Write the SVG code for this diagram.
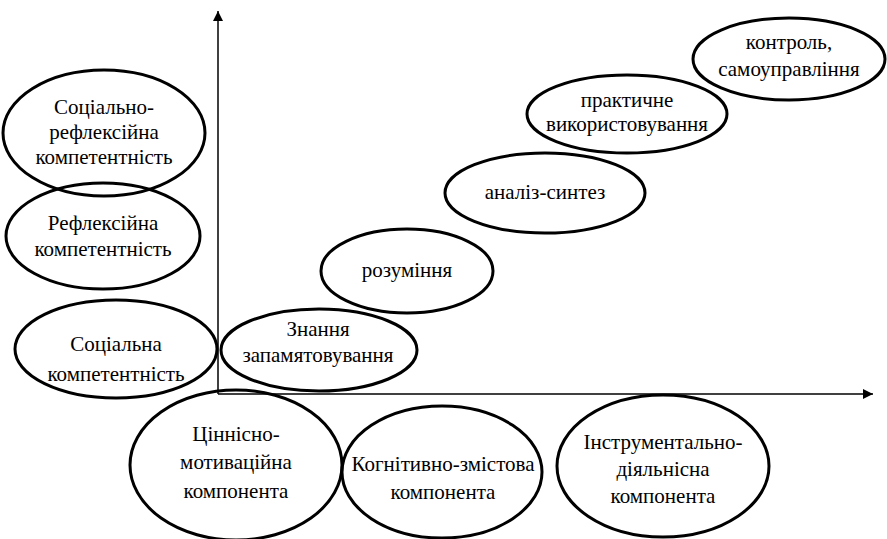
<svg xmlns="http://www.w3.org/2000/svg" width="887" height="539" viewBox="0 0 887 539">
<defs>
<style>
.n ellipse{fill:none;stroke:#000;stroke-width:3}
text{font-family:Liberation Serif,Times New Roman,Times,serif;font-size:21px;fill:#000;text-anchor:middle}
.ax{stroke:#000;stroke-width:1.5;fill:none}
</style>
<marker id="arr" viewBox="0 0 10 10" refX="10" refY="5" markerWidth="10" markerHeight="10" markerUnits="userSpaceOnUse" orient="auto">
<path d="M0,0 L10,5 L0,10 z" fill="#000"/>
</marker>
</defs>
<rect width="887" height="539" fill="#fff"/>
<g id="connectors">
<line class="ax" x1="218" y1="394" x2="218" y2="11" marker-end="url(#arr)"/>
<line class="ax" x1="218" y1="394" x2="873" y2="394" marker-end="url(#arr)"/>
</g>
<g id="n1" class="n"><ellipse cx="104" cy="133" rx="101" ry="63"/><text x="104" y="114">Соціально-</text><text x="104" y="139">рефлексійна</text><text x="104" y="164">компетентність</text></g>
<g id="n2" class="n"><ellipse cx="103" cy="236" rx="97" ry="53"/><text x="103" y="230">Рефлексійна</text><text x="103" y="256">компетентність</text></g>
<g id="n3" class="n"><ellipse cx="116" cy="349" rx="101" ry="49"/><text x="116" y="351">Соціальна</text><text x="116" y="381">компетентність</text></g>
<g id="n4" class="n"><ellipse cx="319" cy="350" rx="98" ry="41"/><text x="318" y="336">Знання</text><text x="318" y="362">запамятовування</text></g>
<g id="n5" class="n"><ellipse cx="407" cy="271" rx="86" ry="42"/><text x="407" y="277">розуміння</text></g>
<g id="n6" class="n"><ellipse cx="545" cy="193" rx="100" ry="40"/><text x="545" y="199">аналіз-синтез</text></g>
<g id="n7" class="n"><ellipse cx="627" cy="114" rx="100" ry="39"/><text x="627" y="107">практичне</text><text x="627" y="131">використовування</text></g>
<g id="n8" class="n"><ellipse cx="789" cy="59" rx="96" ry="41"/><text x="789" y="49">контроль,</text><text x="789" y="76">самоуправління</text></g>
<g id="n9" class="n"><ellipse cx="236" cy="465" rx="106" ry="75"/><text x="236" y="441">Ціннісно-</text><text x="236" y="469">мотиваційна</text><text x="236" y="498">компонента</text></g>
<g id="n10" class="n"><ellipse cx="442" cy="472" rx="100" ry="66"/><text x="443" y="471">Когнітивно-змістова</text><text x="443" y="499">компонента</text></g>
<g id="n11" class="n"><ellipse cx="663" cy="466" rx="106" ry="71"/><text x="663" y="449">Інструментально-</text><text x="663" y="476">діяльнісна</text><text x="663" y="503">компонента</text></g>
</svg>
